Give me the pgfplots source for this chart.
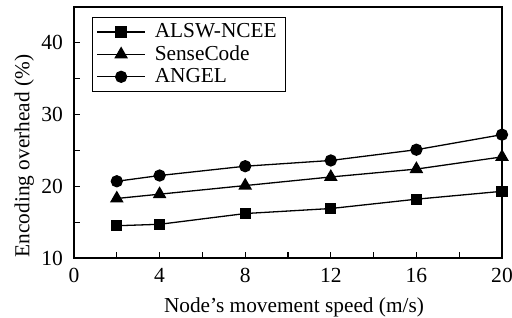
\documentclass[border=0pt]{standalone}
\usepackage{fontspec}
\setmainfont{Liberation Serif}
\usepackage{pgfplots}
\pgfplotsset{compat=1.18}
\newcommand{\legtext}[1]{\makebox[64bp][l]{\hspace*{2.5bp}#1}}
\begin{document}
\begin{tikzpicture}
\useasboundingbox (-37bp,-30bp) rectangle (219bp,129bp);
\begin{axis}[
  scale only axis,
  width=214bp, height=125.5bp,
  xmin=0, xmax=20, ymin=10, ymax=45,
  xtick={0,4,8,12,16,20},
  minor xtick={2,6,10,14,18},
  ytick={10,20,30,40},
  minor ytick={15,25,35},
  tick align=inside,
  xtick pos=bottom, ytick pos=left,
  major tick length=3bp, minor tick length=3bp,
  tick style={black, line width=0.6bp},
  axis line style={line width=0.8bp},
  /pgf/number format/assume math mode=true,
  tick label style={font=\fontsize{10.8}{13}\selectfont},
  xticklabel style={anchor=base, yshift=-12.2bp},
  yticklabel style={anchor=east, inner sep=0pt, xshift=-5.3bp},
  label style={font=\fontsize{10.7}{12}\selectfont},
  xlabel={Node’s movement speed (m/s)},
  ylabel={Encoding overhead (\%)},
  xlabel style={at={(axis description cs:0.5,0)}, anchor=base, yshift=-27.2bp, xshift=3bp},
  ylabel style={at={(axis description cs:0,0.406)}, anchor=base, yshift=22.35bp},
  legend style={at={(rel axis cs:0.042,0.962)}, anchor=north west,
    font=\fontsize{10.7}{12}\selectfont, draw=black, line width=0.5bp,
    row sep=-1.5bp, inner xsep=2bp, inner ysep=1.2bp},
  legend cell align=left,
  legend image code/.code={\draw[mark repeat=2,mark phase=2] plot coordinates {(0bp,0bp) (12bp,0bp) (24bp,0bp)};},
  every axis plot/.append style={black, line width=0.65bp},
]
\addplot[mark=square*, mark size=2.5bp] coordinates {(2,14.5) (4,14.7) (8,16.2) (12,16.9) (16,18.2) (20,19.3)};
\addlegendentry{\legtext{ALSW-NCEE}}
\addplot[mark=triangle*, mark size=3.3bp] coordinates {(2,18.3) (4,18.9) (8,20.1) (12,21.3) (16,22.4) (20,24.1)};
\addlegendentry{\legtext{SenseCode}}
\addplot[mark=*, mark size=2.75bp] coordinates {(2,20.7) (4,21.5) (8,22.8) (12,23.6) (16,25.1) (20,27.2)};
\addlegendentry{\legtext{ANGEL}}
\end{axis}
\end{tikzpicture}
\end{document}
